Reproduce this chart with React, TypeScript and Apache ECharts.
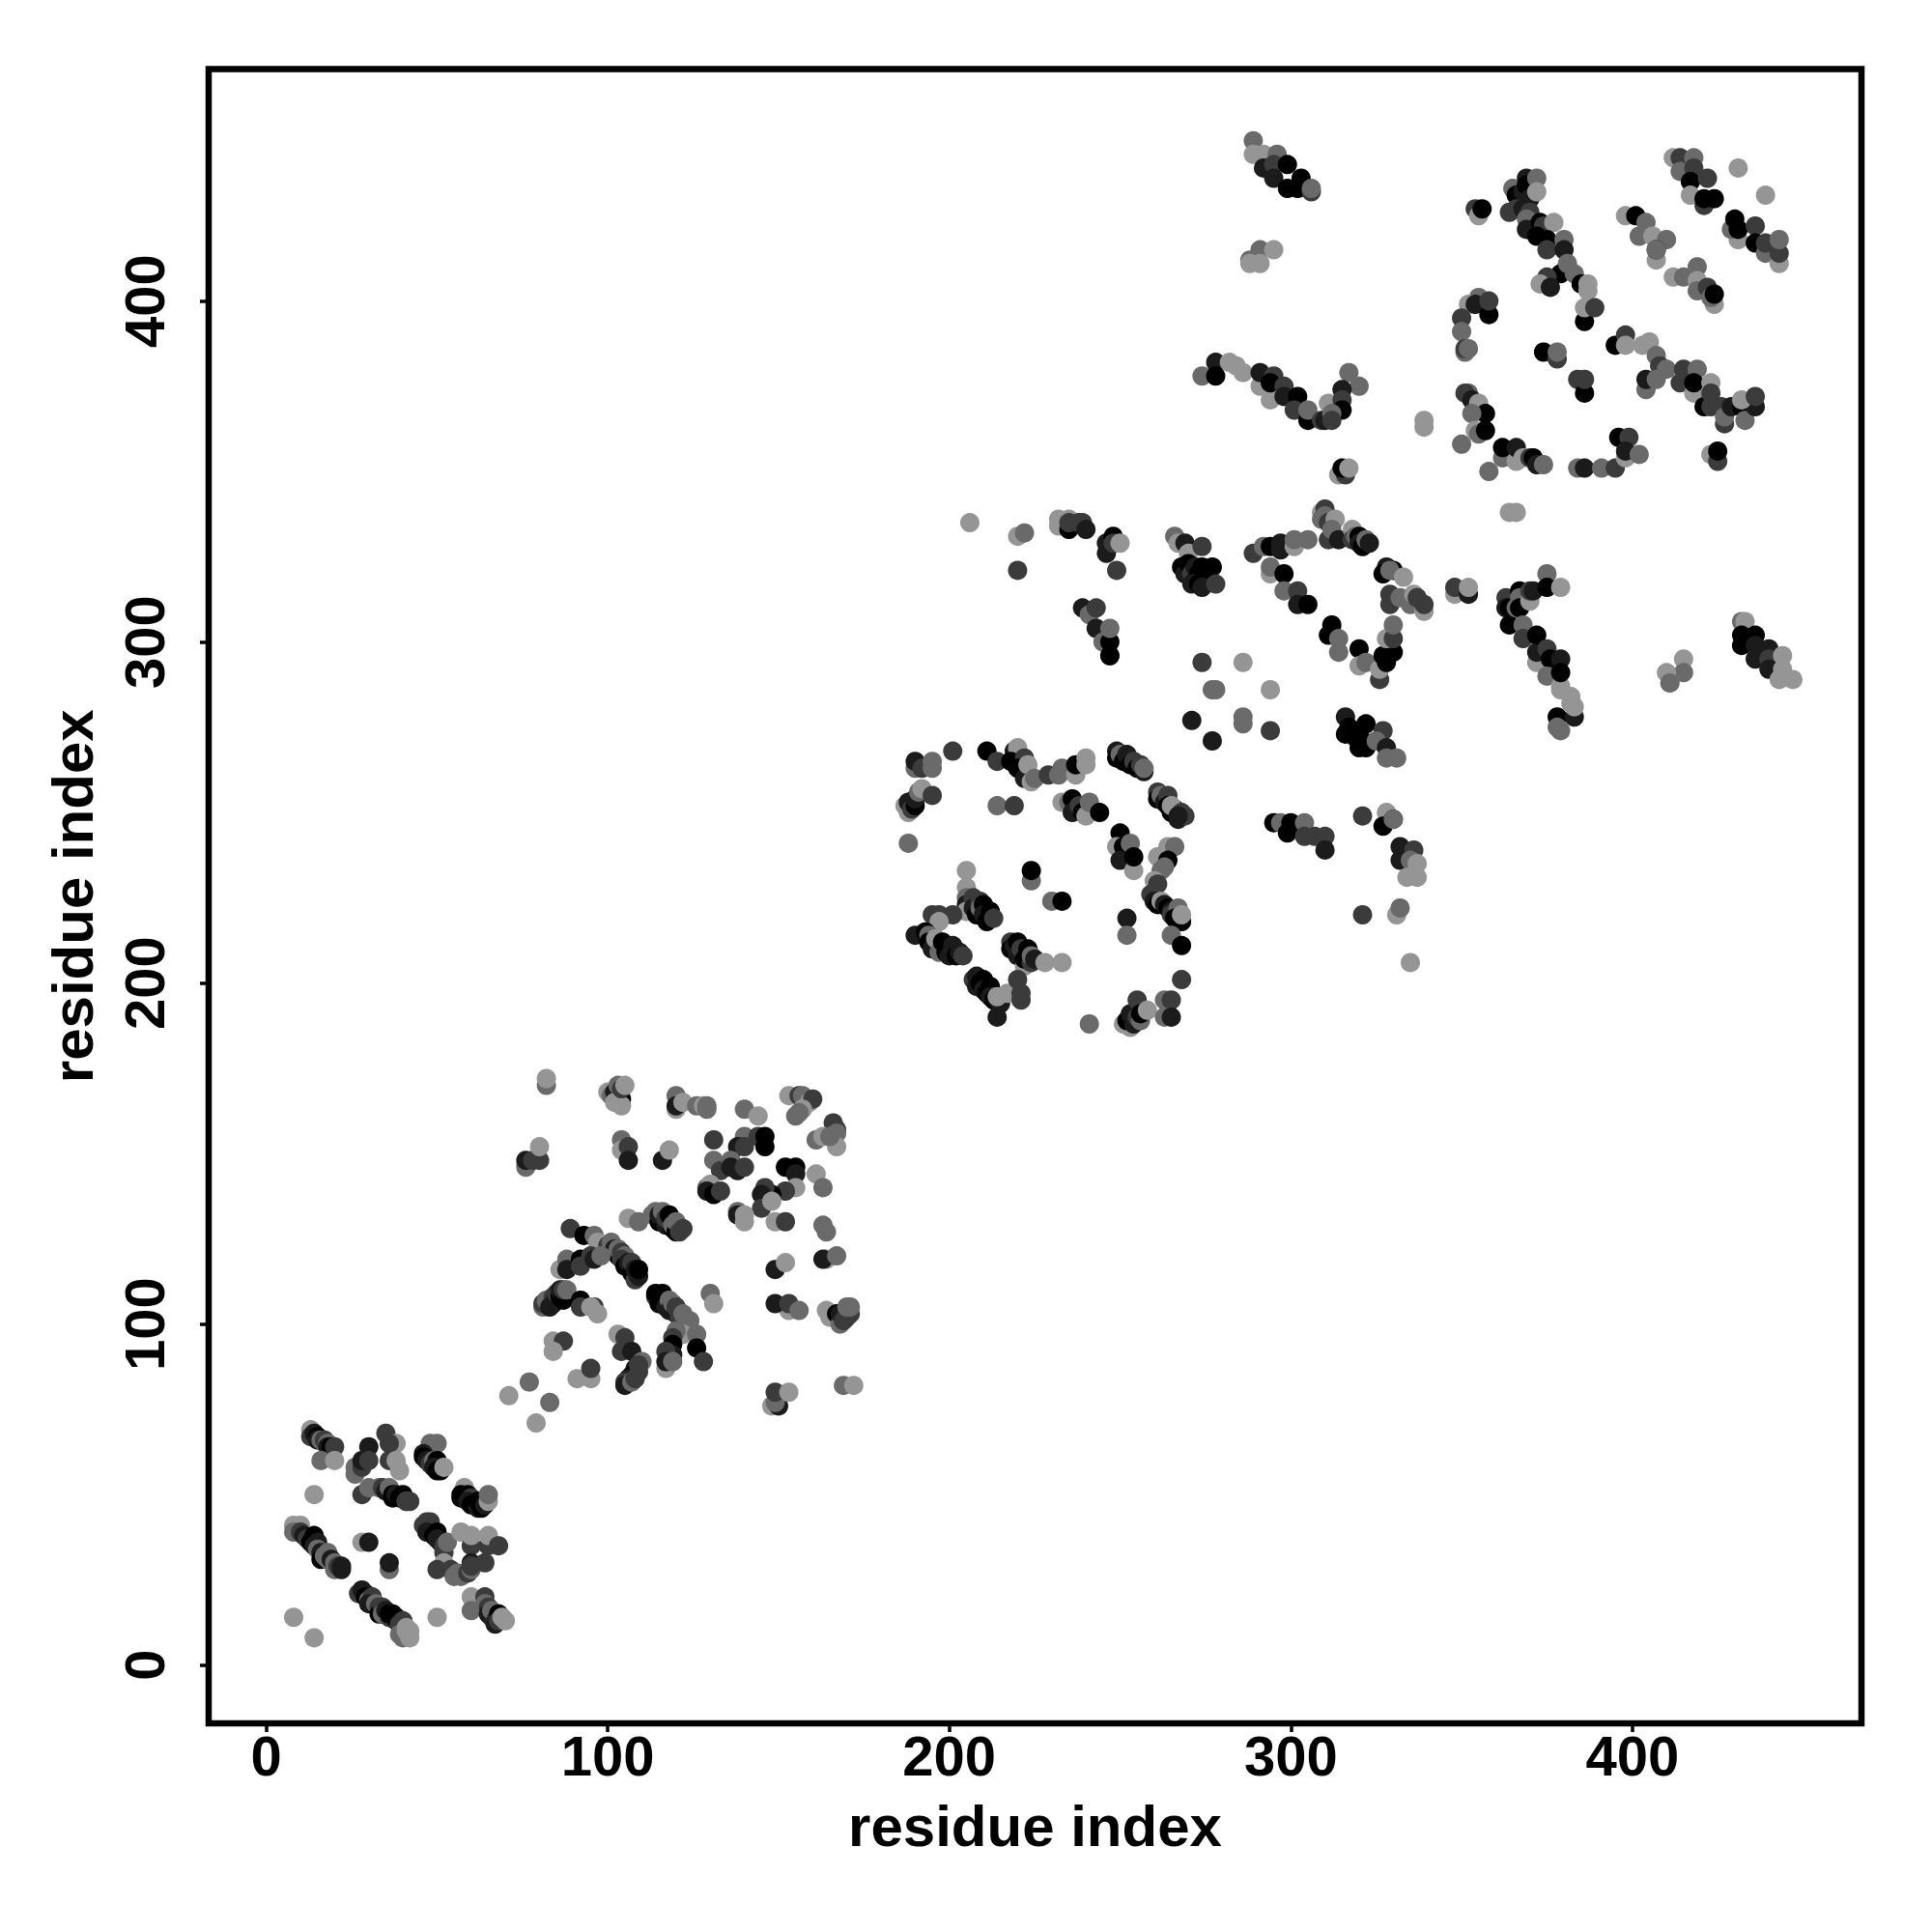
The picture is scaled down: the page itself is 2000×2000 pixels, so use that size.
import React, { useEffect, useRef } from "react";
import * as echarts from "echarts";

// contact strength levels, weak to strong
const a = 1, b = 2, c = 3, d = 4, e = 5;
const GREYS: Record<number, string> = { 1: "#959595", 2: "#6a6a6a", 3: "#3b3b3b", 4: "#1b1b1b", 5: "#000000" };
const TICKS = [0, 100, 200, 300, 400];
const AXIS_NAME = "residue index";

const domainA = [
[13,69,a],[13,67,c],[14,68,d],[15,67,e],[15,66,d],[16,66,b],[17,66,c],[18,65,b],[18,64,d],[19,64,e],[20,64,c],[16,60,b],[20,60,a],
[35,68,c],[30,64,d],[38,65,a],[36,65,c],[36,60,c],[38,60,a],[39,57,a],[26,58,b],[26,56,b],[28,58,c],[28,60,d],[30,60,c],[28,50,c],[30,52,b],
[33,52,b],[34,52,c],[35,51,d],[36,52,b],[37,50,e],[37,49,e],[38,50,d],[39,49,e],[40,50,e],[41,48,a],[41,48,c],[42,48,c],
[48,65,b],[50,65,b],[46,62,d],[46,61,e],[47,60,d],[48,59,c],[49,60,b],[50,60,e],[49,58,d],[50,57,e],[51,57,e],[52,58,a],
[58,52,a],[57,50,e],[57,49,e],[59,50,e],[60,49,c],[59,48,d],[60,47,e],[61,47,e],[62,46,d],[63,46,e],[62,48,e],[64,47,d],[65,48,a],[65,50,b],
[8,41,a],[10,41,a],[8,39,b],[10,39,c],[11,38,d],[12,37,c],[13,36,e],[14,38,e],[15,36,d],[14,35,d],[15,34,b],[16,33,d],[16,31,e],[17,32,b],[18,31,b],[18,33,b],[19,31,d],[20,30,b],[20,28,b],[21,29,c],[22,29,d],[22,28,d],
[28,36,a],[30,36,d],[36,28,b],[36,30,d],[14,50,a],
[27,21,c],[28,22,d],[29,21,d],[29,20,e],[30,19,b],[31,20,c],[30,18,d],[32,18,b],[33,17,c],[33,15,e],[34,17,c],[34,15,b],[35,16,d],[36,14,c],[36,15,e],[37,15,e],[38,13,d],[38,14,e],[39,12,c],[40,13,c],[39,9,b],[40,8,b],[41,11,a],[41,10,a],[42,8,a],[42,10,a],
[8,14,a],[14,8,a],[50,14,a],
[46,41,c],[47,42,c],[48,40,b],[48,42,c],[47,39,d],[49,38,e],[50,39,e],[50,37,d],[51,36,d],[52,33,c],[52,35,c],[53,36,b],[52,30,a],[50,28,c],
[57,39,a],[60,35,c],[60,38,a],[65,35,c],[65,38,a],[68,35,c],
[54,28,c],[55,26,b],[56,27,b],[57,26,b],[58,27,b],[59,27,c],[60,28,b],[60,30,d],[60,29,c],[64,30,c],
[60,20,a],[60,16,b],[64,20,c],[64,18,b],[65,17,c],[65,15,d],[66,14,d],[66,16,b],[67,13,c],[68,15,e],[67,12,d],[68,13,c],[69,14,a],[70,13,a],
];

const domainB = [
[82,170,b],[82,172,a],[100,168,a],[101,167,b],[102,168,d],[103,170,b],[104,166,e],[102,165,a],[104,164,a],[104,169,c],[105,170,a],
[120,167,b],[120,163,a],[120,164,d],[122,165,a],[126,164,b],[128,164,a],[129,163,b],[129,164,b],[140,163,b],[144,161,a],
[153,167,a],[156,167,c],[157,167,b],[159,165,a],[160,166,c],[157,163,a],[155,161,b],[156,162,b],
[166,159,c],[167,157,c],[167,156,b],[161,154,b],[163,155,a],[167,152,a],[165,155,b],
[76,147,a],[76,146,b],[76,148,d],[78,148,c],[80,148,c],[80,152,a],
[104,154,b],[104,151,a],[106,152,c],[106,148,d],[116,148,d],[118,151,a],[131,148,b],[131,154,c],
[140,155,b],[138,152,d],[144,155,c],[146,155,e],[146,152,e],[140,152,c],[133,145,c],[136,148,b],[136,146,d],[138,145,d],[140,146,c],
[129,140,b],[130,141,a],[129,139,d],[131,138,e],[133,139,c],
[152,146,e],[155,146,e],[155,144,d],[161,144,a],[163,140,b],[155,140,a],[152,139,c],[148,138,e],[146,140,c],[145,138,d],[145,134,c],[148,136,a],
[138,133,b],[138,132,d],[140,132,a],[140,130,a],[149,130,a],[152,130,c],
[163,129,b],[164,127,b],[164,119,a],[163,119,d],[167,120,b],
[113,132,b],[114,133,b],[115,130,e],[115,132,d],[116,133,b],[117,129,d],[117,131,c],[118,132,e],[119,128,e],[119,129,b],[120,127,e],[120,130,b],[121,127,c],[122,128,c],
[106,131,a],[109,130,b],
[89,128,c],[93,126,e],[96,126,b],[97,124,a],[100,123,c],[101,124,b],[102,122,d],[103,120,e],[103,122,b],[104,121,c],[105,120,b],[104,119,c],[105,117,e],[106,118,d],[107,115,e],[107,118,c],[108,113,c],[108,116,d],[109,114,d],[109,116,e],
[86,116,a],[88,119,b],[88,116,d],[92,119,e],[92,117,c],[96,120,a],[95,120,c],[96,119,d],[98,120,b],
[81,105,b],[81,106,c],[82,107,b],[83,105,d],[84,108,c],[84,106,d],[85,109,c],[86,108,e],[86,110,d],[87,107,e],[87,110,c],[88,110,b],[92,107,e],[92,105,c],[96,105,c],[95,105,a],[97,103,a],
[114,108,c],[114,109,e],[115,106,e],[116,109,e],[117,105,d],[118,107,b],[118,104,d],[119,106,b],[120,103,d],[120,105,c],[121,102,c],[122,103,b],[124,101,b],[122,97,a],[126,97,b],[120,98,b],[119,96,c],[119,94,e],[126,93,e],[128,89,c],[117,87,a],[119,91,d],[117,92,c],[117,89,d],[119,89,b],
[130,109,b],[131,106,a],[149,116,d],[152,118,a],[153,104,a],[149,106,d],[153,106,c],[156,104,b],
[164,104,a],[165,102,a],[167,103,e],[168,100,b],[168,103,d],[169,101,c],[170,102,c],[171,103,c],[170,105,b],[171,105,b],
[84,95,a],[87,95,c],[84,92,a],[91,84,a],[95,84,a],[95,87,c],[77,83,b],[71,79,a],[83,77,b],[79,71,a],
[103,97,a],[105,96,c],[104,92,c],[107,92,d],[110,89,b],[108,87,d],[109,86,c],[107,85,e],[106,84,d],[105,83,c],[105,82,d],[107,83,b],[108,84,c],[109,88,c],
[169,82,b],[172,82,a],[148,76,a],[150,76,d],[149,77,b],[149,80,c],[153,80,a],
];

const domainC = [
[190,263,b],[190,265,d],[192,263,c],[195,263,b],[195,265,b],[201,268,c],[188,250,a],[187,252,a],[188,253,d],[189,251,c],[190,252,e],[190,254,d],[191,256,b],[192,257,a],[195,255,c],[188,241,b],
[211,268,e],[214,265,c],[219,268,d],[220,269,a],[218,265,e],[222,266,c],[220,263,e],[222,260,d],[223,264,a],[224,259,a],[225,260,b],[229,261,c],[233,263,b],[232,261,b],[237,261,a],[237,264,e],[240,266,a],[240,264,a],
[214,252,b],[219,252,c],
[233,253,a],[235,253,b],[236,254,e],[236,250,d],[238,252,c],[239,250,e],[240,249,a],[241,253,b],[244,250,e],
[249,268,d],[249,266,e],[250,267,b],[251,265,e],[252,267,d],[253,264,e],[254,265,c],[255,263,e],[256,264,c],[257,262,d],[257,263,b],
[261,256,c],[261,254,e],[262,255,b],[263,253,d],[264,255,c],[264,252,e],[265,250,e],[266,251,e],[265,252,a],[267,248,d],[268,250,c],[269,249,c],[267,249,d],
[250,244,e],[249,240,a],[251,240,e],[253,241,b],[250,236,d],[254,233,a],[254,237,e],
[264,240,a],[266,240,b],[261,237,a],[264,236,e],[263,234,b],[262,233,b],[260,230,a],[261,229,c],[259,226,c],[260,224,d],[261,223,e],[262,224,a],[263,223,d],[264,222,e],[265,221,d],[265,220,c],[267,222,b],[266,219,e],[268,218,e],[268,220,a],
[252,219,d],[252,214,b],[265,214,b],[268,211,e],[268,201,c],
[205,233,a],[205,228,a],[224,230,b],[224,233,e],[230,224,b],[233,224,e],
[205,225,b],[205,223,d],[205,221,a],[207,225,c],[207,222,d],[208,220,e],[209,224,c],[209,222,b],[210,223,e],[210,220,d],[211,218,e],[212,221,e],[212,219,e],[213,219,c],
[195,220,c],[197,220,c],[201,220,c],[197,218,a],[190,214,d],[193,215,e],[194,214,b],[194,212,e],[195,210,d],[196,213,a],[197,209,b],[198,212,e],[199,209,e],[200,208,d],[201,211,d],[202,208,e],[203,209,d],[204,208,c],
[218,212,c],[218,210,e],[219,211,d],[220,212,e],[220,208,d],[221,210,c],[222,205,a],[222,207,e],[223,210,e],[224,206,c],[224,208,b],[225,207,d],[228,206,a],[233,206,a],
[207,201,c],[208,202,d],[208,199,d],[209,200,e],[210,201,e],[210,198,d],[211,197,e],[212,199,e],[212,196,d],[213,195,e],[215,194,d],[214,196,a],[214,190,d],[217,197,a],[220,201,c],[221,197,c],[221,195,c],
[241,188,b],
[251,188,a],[253,187,a],[252,189,e],[253,191,d],[254,188,d],[255,195,c],[255,190,c],[256,189,b],[256,191,e],[258,192,a],[263,195,b],[265,195,c],[263,190,b],[265,190,d],
[206,335,a],[220,331,a],[222,332,b],[220,321,c],[249,321,c],
[232,336,a],[232,334,a],[235,336,a],[235,333,e],[235,335,c],[238,335,c],[239,335,c],[240,333,d],
[246,326,d],[246,329,d],[248,331,e],[248,329,c],[250,329,a],
[239,310,d],[241,308,b],[243,310,c],[243,304,d],[245,300,b],[247,296,b],[247,296,e],[247,300,e],[247,304,b],
];

const domainD = [
[266,331,b],[267,329,a],[269,329,d],[270,326,a],[274,328,c],[268,322,e],[269,320,d],[270,323,e],[271,320,c],[272,318,e],[272,322,d],[273,320,e],[274,322,e],[275,320,e],[276,321,e],[277,322,e],[271,317,d],[273,317,e],[275,318,e],[274,316,d],[278,317,c],
[289,326,c],[292,328,b],[294,328,e],[297,329,d],[297,327,d],[301,328,a],[301,330,b],[305,330,b],
[294,320,a],[294,322,b],[298,320,e],[298,315,b],[302,315,c],[302,311,d],[305,311,e],
[309,338,a],[310,339,c],[309,336,b],[310,337,b],[311,335,c],[313,336,a],[311,330,c],[312,333,b],[314,330,d],[318,333,a],[318,330,c],[319,331,b],[320,331,e],[320,329,d],[321,328,e],[322,330,b],[323,329,d],
[328,322,d],[327,320,e],[330,321,e],[329,321,b],[333,319,a],
[329,314,c],[329,311,c],[332,313,b],[335,311,b],[336,314,a],[337,313,c],[339,309,a],[339,311,c],
[312,305,e],[311,302,e],[314,301,b],[314,297,b],[320,298,e],[320,293,a],[322,294,b],[326,289,c],[326,292,a],[328,294,e],[327,296,e],[330,297,e],[328,301,a],[330,301,c],[330,305,b],
[274,294,c],[286,294,a],[277,286,b],[278,286,b],[294,286,a],[286,278,b],[286,276,b],[271,277,d],[277,271,d],[294,274,c],
[316,278,d],[322,276,e],[327,274,c],[317,275,e],[316,273,e],[319,272,e],[321,271,e],[322,269,e],[320,269,e],[325,271,b],[328,269,d],[328,266,b],[331,266,b],
[295,247,e],[297,247,b],[300,247,e],[299,244,e],[301,246,e],[304,247,b],[304,243,c],[307,243,c],[310,243,c],[310,239,d],
[321,249,c],[328,250,a],[327,246,e],[330,248,e],[330,248,b],
[332,240,d],[336,239,c],[332,236,d],[335,236,b],[337,235,a],[334,231,a],[337,231,a],
[321,220,c],[331,220,a],[332,222,b],[335,206,a],
];

const domainE = [
[289,447,b],[289,443,a],[292,443,a],[296,443,b],[292,439,d],[295,440,c],[295,436,d],[299,440,e],[303,436,e],[299,433,e],[302,433,e],[306,432,c],[306,433,b],
[291,415,b],[295,415,a],[288,412,b],[288,411,a],[291,411,a],
[274,378,b],[278,382,d],[278,378,e],[282,382,a],[284,381,a],[286,379,a],[291,375,a],[291,379,d],[295,378,c],[294,371,a],[294,376,e],[298,375,c],[298,372,d],[302,372,e],[301,368,c],[305,365,e],[305,368,b],[309,365,c],[311,370,a],[317,379,b],[320,375,b],[315,374,d],[315,371,c],[315,368,e],[310,365,d],[312,367,b],[312,365,c],
[314,349,a],[316,349,c],[315,351,e],[317,351,a],[339,363,a],[339,365,a],
[354,427,c],[355,425,a],[356,427,e],
[365,433,b],[366,431,e],[368,432,d],[369,436,d],[369,434,e],[370,430,d],[372,436,b],[372,432,a],[364,426,c],[366,427,c],[368,427,d],[370,426,c],[369,424,b],
[369,421,d],[373,423,e],[374,422,c],[377,423,a],[372,419,e],[375,418,e],[380,418,b],[375,415,c],[380,415,d],[379,408,e],[381,411,b],[383,408,b],[375,407,c],[373,405,a],[376,404,d],[385,405,e],[387,403,a],[387,405,a],[386,394,e],[386,398,a],[389,398,c],
[355,401,b],[352,399,a],[354,399,d],[358,396,e],[358,400,c],[350,395,c],[350,391,b],[351,385,b],[351,386,c],[352,386,b],
[374,385,e],[378,383,c],[378,385,b],[384,377,c],[386,373,e],[386,377,c],
[352,373,b],[351,373,c],[353,371,d],[355,370,a],[357,367,e],[353,367,b],[354,362,a],[355,361,b],[357,362,e],
[350,358,b],[358,350,b],[364,338,a],[366,338,a],
[362,354,b],[362,357,e],[366,353,a],[366,357,d],[368,354,a],[370,354,c],[371,354,e],[372,352,d],[374,352,b],
[384,351,b],[386,351,d],[391,351,b],[395,351,c],[396,360,e],[399,360,c],[398,354,a],[398,356,d],[402,355,b],
[395,387,e],[398,390,c],[398,387,a],[403,387,a],[405,388,a],[407,384,b],[408,381,c],[410,380,b],[404,374,b],[404,377,d],[407,377,b],[414,376,c],[415,380,c],[419,380,b],[418,373,a],[418,376,e],[423,376,a],
[421,369,e],[423,373,c],[423,369,c],[426,369,c],[427,364,c],[427,366,b],[429,369,d],[432,369,e],[433,365,b],[436,369,d],[432,371,a],[436,372,c],
[423,355,a],[425,353,c],[425,356,e],
[412,442,a],[414,442,c],[418,442,b],[414,438,b],[418,439,c],[417,435,e],[422,436,c],[417,431,a],[421,428,c],[421,430,e],[424,430,e],
[431,439,a],[439,431,a],
[431,418,a],[429,421,b],[430,424,e],[431,421,e],[436,422,c],[436,417,e],[439,414,b],[439,417,c],[443,411,a],[443,414,c],[443,418,b],
[398,425,a],[401,425,e],[404,423,b],[402,419,b],[406,419,a],[410,418,b],[407,412,a],[407,415,e],[407,415,b],
[419,410,b],[412,407,a],[415,407,b],[419,406,a],[419,403,b],[424,399,a],[422,404,c],[423,401,b],[424,402,e],
[348,314,a],[348,316,c],[352,314,d],[352,316,a],
[363,313,c],[363,310,d],[364,310,e],[364,305,e],[366,310,b],[367,315,e],[367,313,b],[367,310,e],[370,312,a],[370,315,c],[371,315,d],[375,320,b],[375,316,e],[379,316,a],
[368,305,b],[368,301,c],[372,294,a],[372,297,d],[372,302,e],[375,298,c],[376,295,e],[379,295,d],[375,290,b],[379,286,a],[379,287,a],[379,291,e],[378,278,e],[383,278,d],[382,284,a],[382,282,a],[383,281,a],[378,275,b],[379,274,b],
[415,295,a],[415,291,b],[410,291,a],[411,288,a],[411,288,b],
[432,306,b],[433,306,a],[436,302,e],[432,302,e],[432,299,e],[436,299,d],[440,298,d],[436,295,d],[440,295,c],[444,296,a],[440,292,d],[444,292,a],[443,289,a],[447,289,a],
];

const CONTACTS = [...domainA, ...domainB, ...domainC, ...domainD, ...domainE];

export default function App() {
  const ref = useRef<HTMLDivElement>(null);
  useEffect(() => {
    const chart = echarts.init(ref.current!, undefined, { renderer: "svg" });
    const font = { fontFamily: "Liberation Sans", fontWeight: "bold" as const, fontSize: 58, color: "#000" };
    const axisBase = {
      type: "value" as const,
      name: AXIS_NAME,
      nameLocation: "middle" as const,
      nameTextStyle: { ...font, fontSize: 60 },
      splitLine: { show: false },
      axisLine: { show: false, onZero: false },
      axisTick: { show: true, length: 9, lineStyle: { color: "#000", width: 3.5 }, customValues: TICKS },
    };
    chart.setOption({
      animation: false,
      backgroundColor: "#fff",
      grid: { show: true, left: 216, top: 71.5, width: 1711, height: 1712.5, borderColor: "#000", borderWidth: 6.5, containLabel: false },
      xAxis: { ...axisBase, min: -16.89, max: 467.1, nameGap: 76,
        axisLabel: { ...font, margin: 4, customValues: TICKS, hideOverlap: false, showMinLabel: true, showMaxLabel: true } },
      yAxis: { ...axisBase, min: -17.08, max: 468, nameGap: 111,
        axisLabel: { ...font, margin: 38, rotate: 90, customValues: TICKS, hideOverlap: false, showMinLabel: true, showMaxLabel: true } },
      series: [{
        type: "scatter",
        data: CONTACTS,
        symbol: "circle",
        symbolSize: 20,
        silent: true,
        itemStyle: { opacity: 1, color: (p: any) => GREYS[p.value[2]] },
      }],
    });
    return () => chart.dispose();
  }, []);
  return <div ref={ref} style={{ position: "absolute", left: 0, top: 0, width: 2000, height: 2000 }} />;
}
